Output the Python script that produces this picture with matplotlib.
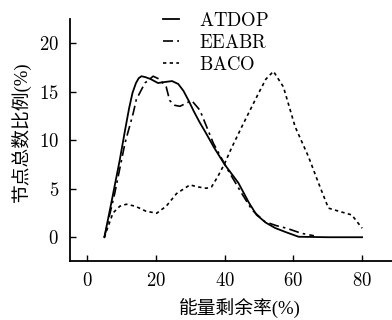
import matplotlib
matplotlib.use('Agg')
import matplotlib.pyplot as plt
from matplotlib.ticker import FuncFormatter

plt.rcParams['font.family'] = ['Liberation Serif', 'Noto Sans CJK SC']
plt.rcParams['mathtext.fontset'] = 'cm'
plt.rcParams['font.size'] = 13

# ATDOP curve (solid)
atdop_x = [5, 7, 9.5, 11, 12.2, 13.2, 14.2, 15, 15.8, 17, 18.5, 20.6, 22.5, 24.7, 26.5, 28, 29.5, 31, 32.8, 34.3, 37, 40, 44, 47, 49.3, 52, 54.7, 58, 61.5, 70, 80]
atdop_y = [0, 3.5, 8, 11, 13.3, 14.9, 15.9, 16.4, 16.6, 16.5, 16.3, 15.9, 16.0, 16.1, 15.8, 15.1, 14.1, 13.0, 11.8, 10.9, 9.2, 7.5, 5.6, 3.6, 2.3, 1.5, 0.95, 0.5, 0.05, 0, 0]

# EEABR curve (dash-dot)
eeabr_x = [5, 8, 11, 13.4, 14.3, 16.8, 19.2, 21, 23, 24, 25.5, 27, 30.4, 32.8, 36.7, 41, 45, 48, 51.7, 55, 58, 62.4, 66]
eeabr_y = [0, 4.5, 9.7, 12.8, 14.2, 15.9, 16.6, 16.3, 15.5, 14.1, 13.6, 13.5, 14.1, 13.1, 9.7, 6.9, 4.5, 2.8, 1.6, 1.2, 0.93, 0.4, 0.15]

# BACO curve (dotted)
baco_x = [5, 7.5, 9.5, 11.4, 14, 17, 20.2, 23, 26, 29.9, 32, 34.7, 36.2, 38, 40, 42, 45, 49.8, 52, 54.2, 57.1, 60.5, 64.4, 67.3, 70.2, 73.6, 77, 80]
baco_y = [0, 2.5, 3.2, 3.4, 3.2, 2.7, 2.47, 3.2, 4.5, 5.4, 5.2, 5.05, 5.2, 6.25, 7.6, 9.2, 11.4, 14.8, 16.3, 17.1, 15.5, 11.4, 8.3, 5.6, 3.0, 2.64, 2.3, 0.93]

labels = ['ATDOP', 'EEABR', 'BACO']
x_ticks = [0, 20, 40, 60, 80]
y_ticks = [0, 5, 10, 15, 20]

fig = plt.figure(figsize=(3.92, 3.2), dpi=100)
ax = fig.add_axes([70 / 392, 59 / 320, 322 / 392, 242 / 320])

ax.plot(atdop_x, atdop_y, color='black', lw=1.3, ls='-', label=r'$\mathrm{%s}$' % labels[0])
ax.plot(eeabr_x, eeabr_y, color='black', lw=1.2, ls=(0, (6, 2.5, 1.5, 2.5)), label=r'$\mathrm{%s}$' % labels[1])
ax.plot(baco_x, baco_y, color='black', lw=1.2, ls=(0, (2, 2)), label=r'$\mathrm{%s}$' % labels[2])

ax.set_xlim(-5, 88.7)
ax.set_ylim(-2.45, 22.5)
ax.set_xticks(x_ticks)
ax.set_yticks(y_ticks)
fmt = FuncFormatter(lambda v, p: r'$%d$' % v)
ax.xaxis.set_major_formatter(fmt)
ax.yaxis.set_major_formatter(fmt)
ax.tick_params(direction='in', length=4, width=1, pad=8, labelsize=13.5)

for side in ['top', 'right']:
    ax.spines[side].set_visible(False)
for side in ['left', 'bottom']:
    ax.spines[side].set_linewidth(1.3)

ax.set_xlabel('能量剩余率(%)', fontsize=13.5)
ax.xaxis.set_label_coords(0.528, -0.155)
ax.set_ylabel('节点总数比例(%)', fontsize=13.5)
ax.yaxis.set_label_coords(-0.12, 0.533)

ax.legend(frameon=False, loc='upper left', bbox_to_anchor=(163 / 392, 308 / 320),
          bbox_transform=fig.transFigure, borderpad=0, borderaxespad=0,
          handlelength=0.85, handletextpad=1.05, labelspacing=0.2, fontsize=13.5)

fig.savefig('out.png', dpi=100)
